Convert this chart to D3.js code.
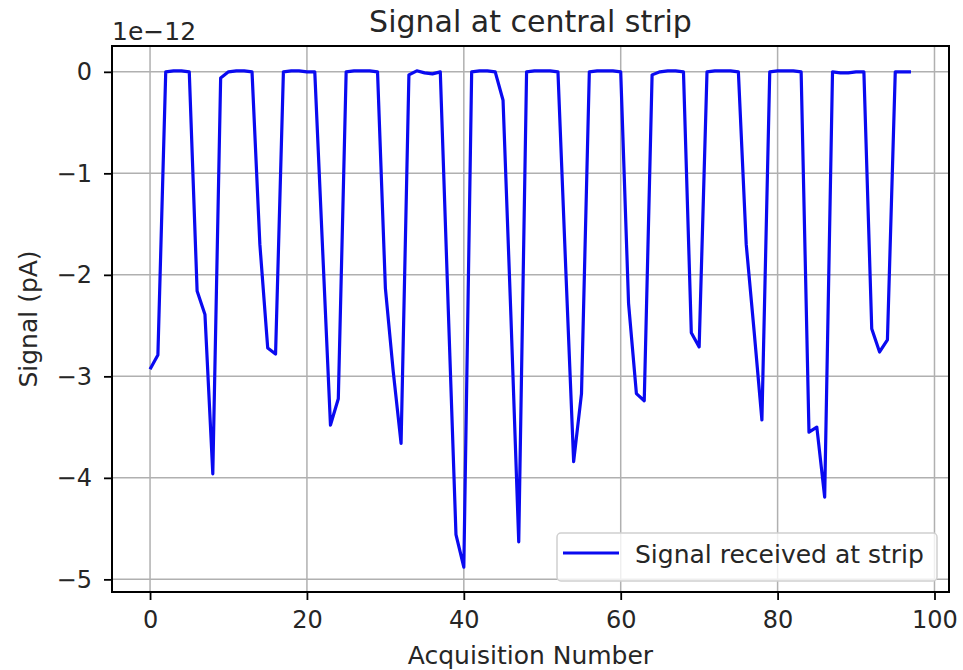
<!DOCTYPE html>
<html>
<head>
<meta charset="utf-8">
<script src="https://cdn.jsdelivr.net/npm/d3@7"></script>
<style>
  body { margin: 0; background: #fff; }
  svg { font-family: "DejaVu Sans", sans-serif; }
</style>
</head>
<body>
<svg width="963" height="670"></svg>
<script>
// signal values (units of 1e-12 A), one per acquisition 0..97
const signal = [
  -2.93, -2.79, 0, 0.01, 0.01, 0, -2.16, -2.39, -3.96, -0.06,
  0, 0.01, 0.01, 0, -1.7, -2.72, -2.78, 0, 0.01, 0.01,
  0, 0, -1.75, -3.48, -3.22, 0, 0.01, 0.01, 0.01, 0,
  -2.13, -2.95, -3.66, -0.03, 0.01, -0.01, -0.02, 0, -2.3, -4.56,
  -4.88, 0, 0.01, 0.01, 0, -0.28, -2.4, -4.63, 0, 0.01,
  0.01, 0.01, 0, -1.95, -3.84, -3.17, 0, 0.01, 0.01, 0.01,
  0, -2.28, -3.17, -3.24, -0.03, 0, 0.01, 0.01, 0, -2.57,
  -2.71, 0, 0.01, 0.01, 0.01, 0, -1.7, -2.55, -3.43, 0,
  0.01, 0.01, 0.01, 0, -3.55, -3.5, -4.19, 0, -0.01, -0.01,
  0, 0, -2.53, -2.76, -2.64, 0, 0, 0
];
const xTicks = [0, 20, 40, 60, 80, 100];
const yTicks = [0, -1, -2, -3, -4, -5];
const seriesName = "Signal received at strip";

const svg = d3.select("svg");
const margin = { left: 112, right: 14, top: 46, bottom: 78 };
const width = 963, height = 670;
const ink = "#262626";

const n = signal.length - 1;
const xPad = n * 0.05;
const x = d3.scaleLinear()
  .domain([-xPad, n + xPad])
  .range([margin.left, width - margin.right]);

const yMin = d3.min(signal), yMax = d3.max(signal);
const yPad = (yMax - yMin) * 0.05;
const y = d3.scaleLinear()
  .domain([yMin - yPad, yMax + yPad])
  .range([height - margin.bottom, margin.top]);

// grid
const grid = svg.append("g").attr("stroke", "#b0b0b0").attr("stroke-width", 1.5);
grid.selectAll(".gx").data(xTicks).enter().append("line")
  .attr("x1", d => x(d)).attr("x2", d => x(d))
  .attr("y1", margin.top).attr("y2", height - margin.bottom);
grid.selectAll(".gy").data(yTicks).enter().append("line")
  .attr("x1", margin.left).attr("x2", width - margin.right)
  .attr("y1", d => y(d)).attr("y2", d => y(d));

// line
const line = d3.line().x((d, i) => x(i)).y(d => y(d));
svg.append("path")
  .datum(signal)
  .attr("fill", "none")
  .attr("stroke", "#0a0af0")
  .attr("stroke-width", 3.2)
  .attr("stroke-linejoin", "round")
  .attr("d", line);

// axes
const fmt = d => d < 0 ? "\u2212" + Math.abs(d) : String(d);
const xAxis = svg.append("g")
  .attr("transform", `translate(0,${height - margin.bottom})`)
  .call(d3.axisBottom(x).tickValues(xTicks).tickSize(8).tickPadding(11).tickFormat(fmt));
const yAxis = svg.append("g")
  .attr("transform", `translate(${margin.left},0)`)
  .call(d3.axisLeft(y).tickValues(yTicks).tickSize(8).tickPadding(12).tickFormat(fmt));
[xAxis, yAxis].forEach(a => {
  a.select(".domain").remove();
  a.selectAll(".tick line").attr("stroke", "#000").attr("stroke-width", 1.8);
  a.selectAll(".tick text").attr("font-size", 24).attr("fill", ink)
    .attr("font-family", "DejaVu Sans");
});

// frame
svg.append("rect")
  .attr("x", margin.left).attr("y", margin.top)
  .attr("width", width - margin.left - margin.right)
  .attr("height", height - margin.top - margin.bottom)
  .attr("fill", "none").attr("stroke", "#000").attr("stroke-width", 2);

// texts
svg.append("text").attr("x", (margin.left + width - margin.right) / 2).attr("y", 32)
  .attr("text-anchor", "middle").attr("font-size", 30).attr("fill", ink)
  .text("Signal at central strip");
svg.append("text").attr("x", margin.left).attr("y", 40)
  .attr("font-size", 25).attr("fill", ink).text("1e\u221212");
svg.append("text").attr("x", (margin.left + width - margin.right) / 2).attr("y", 664)
  .attr("text-anchor", "middle").attr("font-size", 25).attr("fill", ink)
  .text("Acquisition Number");
svg.append("text")
  .attr("transform", `translate(37,${(margin.top + height - margin.bottom) / 2}) rotate(-90)`)
  .attr("text-anchor", "middle").attr("font-size", 25).attr("fill", ink)
  .text("Signal (pA)");

// legend
const lg = svg.append("g").attr("transform", "translate(557,533)");
lg.append("rect").attr("width", 380).attr("height", 48).attr("rx", 4)
  .attr("fill", "#fff").attr("fill-opacity", 0.8)
  .attr("stroke", "#d0d0d0").attr("stroke-width", 1.5);
lg.append("line").attr("x1", 6).attr("x2", 62).attr("y1", 20).attr("y2", 20)
  .attr("stroke", "#0a0af0").attr("stroke-width", 3.2);
lg.append("text").attr("x", 78).attr("y", 30).attr("font-size", 25).attr("fill", ink)
  .text(seriesName);
</script>
</body>
</html>
